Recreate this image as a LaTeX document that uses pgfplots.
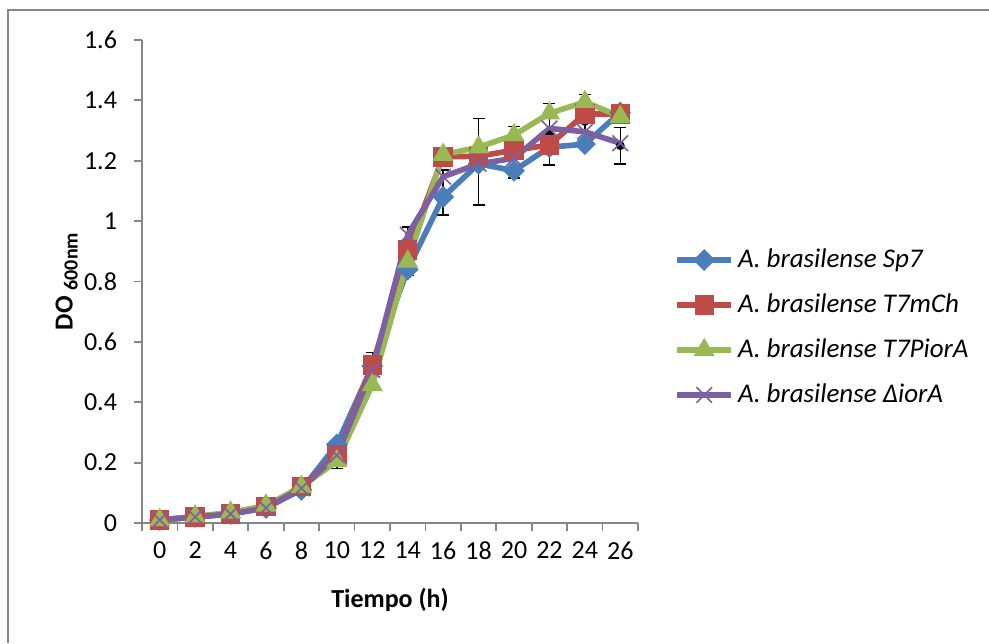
\documentclass[border=0pt]{standalone}
\usepackage{fontspec}
\setmainfont{Carlito}
\usepackage{pgfplots}
\pgfplotsset{compat=1.18}
\definecolor{SBlue}{HTML}{4A7EBB}
\definecolor{SRed}{HTML}{BE4B48}
\definecolor{SGreen}{HTML}{98B954}
\definecolor{SPurple}{HTML}{7D60A0}
\definecolor{AxGray}{HTML}{868686}
\newcommand{\cf}{\fontsize{13}{15}\selectfont}
\newcommand{\lf}{\fontsize{13.5}{15}\selectfont}
\begin{document}
\begin{tikzpicture}
\useasboundingbox (0,0) rectangle (494.5pt,321.5pt);
\draw[AxGray,line width=1pt] (4pt,0pt) -- (4pt,316.5pt) -- (494.5pt,316.5pt);
\begin{axis}[
  at={(71pt,60pt)}, anchor=south west,
  scale only axis, width=248pt, height=241.5pt,
  xmin=-1, xmax=27, ymin=0, ymax=1.6,
  axis x line*=bottom, axis y line*=left,
  axis line style={AxGray,line width=0.9pt,-},
  tick align=outside, major tick length=4pt,
  tick style={AxGray,line width=0.9pt},
  xtick={-1,1,...,27}, xticklabels={},
  extra x ticks={0,2,...,26},
  extra x tick labels={0,2,4,6,8,10,12,14,16,18,20,22,24,26},
  extra x tick style={major tick length=0pt},
  ytick={0,0.2,0.4,0.6,0.8,1,1.2,1.4,1.6},
  yticklabels={0,0.2,0.4,0.6,0.8,1,1.2,1.4,1.6},
  ticklabel style={font=\cf, black},
  xticklabel style={yshift=-6pt},
  yticklabel style={xshift=-5pt},
  xlabel={\textbf{Tiempo (h)}},
  ylabel={\textbf{DO {\fontsize{10}{11}\selectfont\raisebox{-2.5pt}{600nm}}}},
  xlabel style={font=\cf, at={(axis description cs:0.5,-0.159)}, anchor=center},
  ylabel style={font=\cf, at={(axis description cs:-0.152,0.5)}, anchor=center},
  clip=false,
  legend style={at={(rel axis cs:1,0.5)}, anchor=west, xshift=18pt, yshift=-23pt,
    draw=none, fill=none, font=\lf\itshape, row sep=7.6pt, inner sep=0pt},
  legend cell align=left,
  legend image code/.code={
    \draw[mark repeat=2,mark phase=2,#1] plot coordinates {(0pt,0pt) (13.5pt,0pt) (27pt,0pt)};
  },
]
% error bars (drawn first, behind the lines)
\addplot[forget plot, only marks, mark=none,
  error bars/.cd, y dir=both, y explicit,
  error bar style={black,line width=0.75pt},
  error mark options={black,rotate=90,mark size=3pt,line width=0.75pt}]
  coordinates {
  (10,0.225) +- (0,0.045)
  (12,0.525) +- (0,0.04)
  (14,0.90) +- (0,0.08)
  (16,1.095) +- (0,0.075)
  (18,1.197) +- (0,0.143)
  (20,1.228) +- (0,0.085)
  (22,1.288) +- (0,0.102)
  (24,1.33) +- (0,0.09)
  (26,1.25) +- (0,0.06)
  };
\addplot[SBlue, line width=2.8pt, mark=square*, mark size=3.6pt,
  mark options={rotate=45, fill=SBlue, draw=SBlue, line width=0.5pt}]
  coordinates {(0,0.01) (2,0.02) (4,0.03) (6,0.05) (8,0.11) (10,0.26) (12,0.52)
  (14,0.84) (16,1.08) (18,1.19) (20,1.167) (22,1.245) (24,1.255) (26,1.36)};
\addlegendentry{A. brasilense Sp7}
\addplot[SRed, line width=2.8pt, mark=square*, mark size=4.6pt,
  mark options={fill=SRed, draw=SRed, line width=0.5pt}]
  coordinates {(0,0.01) (2,0.02) (4,0.03) (6,0.055) (8,0.12) (10,0.225) (12,0.523)
  (14,0.904) (16,1.213) (18,1.215) (20,1.235) (22,1.252) (24,1.355) (26,1.355)};
\addlegendentry{A. brasilense T7mCh}
\addplot[SGreen, line width=2.8pt, mark=triangle*, mark size=5.6pt,
  mark options={fill=SGreen, draw=SGreen, line width=0.5pt}]
  coordinates {(0,0.01) (2,0.022) (4,0.035) (6,0.058) (8,0.12) (10,0.205) (12,0.457)
  (14,0.866) (16,1.22) (18,1.245) (20,1.285) (22,1.357) (24,1.395) (26,1.346)};
\addlegendentry{A. brasilense T7PiorA}
\addplot[SPurple, line width=2.8pt, mark=x, mark size=5.5pt,
  mark options={draw=SPurple, line width=0.8pt}]
  coordinates {(0,0.01) (2,0.02) (4,0.03) (6,0.05) (8,0.115) (10,0.225) (12,0.507)
  (14,0.955) (16,1.147) (18,1.19) (20,1.208) (22,1.307) (24,1.296) (26,1.258)};
\addlegendentry{A. brasilense ΔiorA}
\end{axis}
\end{tikzpicture}
\end{document}
